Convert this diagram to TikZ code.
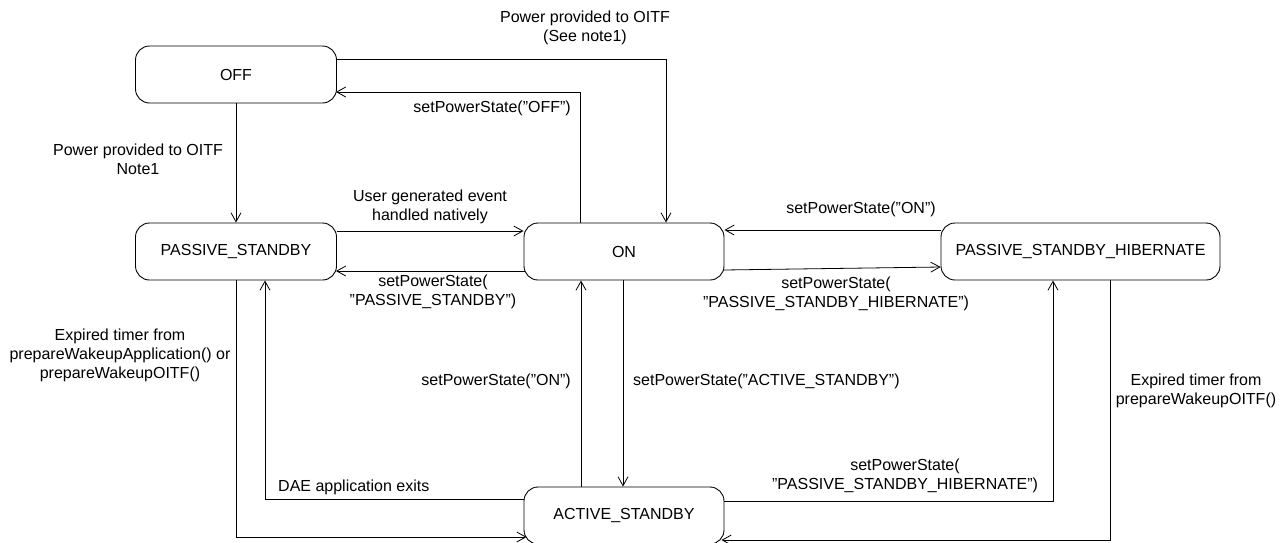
\documentclass[tikz,border=0pt]{standalone}
\usepackage{fontspec}
\setmainfont{Liberation Sans}
\usetikzlibrary{arrows.meta}
\begin{document}
\begin{tikzpicture}[x=1pt,y=-1pt,
  every node/.style={font=\fontsize{16}{19}\selectfont},
  statebox/.style={draw, line width=0.9pt, rounded corners=14pt, inner sep=0pt,
    minimum height=57pt, align=center},
  arr/.style={line width=0.8pt, -{Straight Barb[length=9pt,width=10pt,line width=0.8pt]}},
  lbl/.style={align=center, inner sep=0pt}]
\useasboundingbox (0,0) rectangle (1288,542);
% states
\node[statebox, minimum width=201pt] (OFF) at (236,74.5) {OFF};
\node[statebox, minimum width=201pt] (PS) at (236,251.5) {PASSIVE\_STANDBY};
\node[statebox, minimum width=200pt] (ON) at (624,251.5) {ON};
\node[statebox, minimum width=279pt] (PSH) at (1080.5,251.5) {PASSIVE\_STANDBY\_HIBERNATE};
\node[statebox, minimum width=200pt] (AS) at (624,515.5) {ACTIVE\_STANDBY};
% OFF -> ON
\draw[arr] (OFF.east |- 0,59) -| (ON.north -| 666,0);
\node[lbl] (l1) at (585,27.5) {Power provided to OITF\\(See note1)};
% ON -> OFF
\draw[arr] (ON.north -| 580,0) |- ([xshift=-1pt]OFF.east |- 0,92);
\node[lbl, anchor=east] (l2) at (571,108) {setPowerState("OFF")};
% OFF -> PS
\draw[arr] (OFF.south) -- (PS.north);
\node[lbl] (l3) at (138,159.5) {Power provided to OITF\\Note1};
% PS -> ON
\draw[arr] (PS.east |- 0,231) -- (ON.west |- 0,231);
\node[lbl] (l4) at (430,206.5) {User generated event\\handled natively};
% ON -> PS
\draw[arr] ([xshift=1pt]ON.west |- 0,271) -- ([xshift=-1pt]PS.east |- 0,271);
\node[lbl] (l5) at (433,292) {setPowerState(\\"PASSIVE\_STANDBY")};
% PSH -> ON
\draw[arr] (PSH.west |- 0,230) -- (ON.east |- 0,230);
\node[lbl] (l6) at (861,209) {setPowerState("ON")};
% ON -> PSH
\draw[arr] ([xshift=-1pt]ON.east |- 0,270) -- (PSH.west |- 0,267);
\node[lbl] (l7) at (836,294) {setPowerState(\\"PASSIVE\_STANDBY\_HIBERNATE")};
% ON -> AS
\draw[arr] (ON.south -| 623,0) -- (AS.north -| 623,0);
\node[lbl, anchor=west] (l8) at (633,381) {setPowerState("ACTIVE\_STANDBY")};
% AS -> ON
\draw[arr] (AS.north -| 581,0) -- (ON.south -| 581,0);
\node[lbl, anchor=east] (l9) at (571,381) {setPowerState("ON")};
% AS -> PS
\draw[arr] (AS.west |- 0,499) -| (PS.south -| 265,0);
\node[lbl, anchor=west] (l10) at (278,487) {DAE application exits};
% PS -> AS
\draw[arr] (PS.south) |- ([xshift=3pt]AS.west |- 0,537);
\node[lbl] (l11) at (120,355) {Expired timer from\\prepareWakeupApplication() or\\prepareWakeupOITF()};
% AS -> PSH
\draw[arr] (AS.east |- 0,501) -| (PSH.south -| 1053,0);
\node[lbl] (l12) at (905,476) {setPowerState(\\"PASSIVE\_STANDBY\_HIBERNATE")};
% PSH -> AS
\draw[arr] (PSH.south -| 1110,0) |- ([xshift=-3pt]AS.east |- 0,540);
\node[lbl] (l13) at (1196,390.5) {Expired timer from\\prepareWakeupOITF()};
\end{tikzpicture}
\end{document}
